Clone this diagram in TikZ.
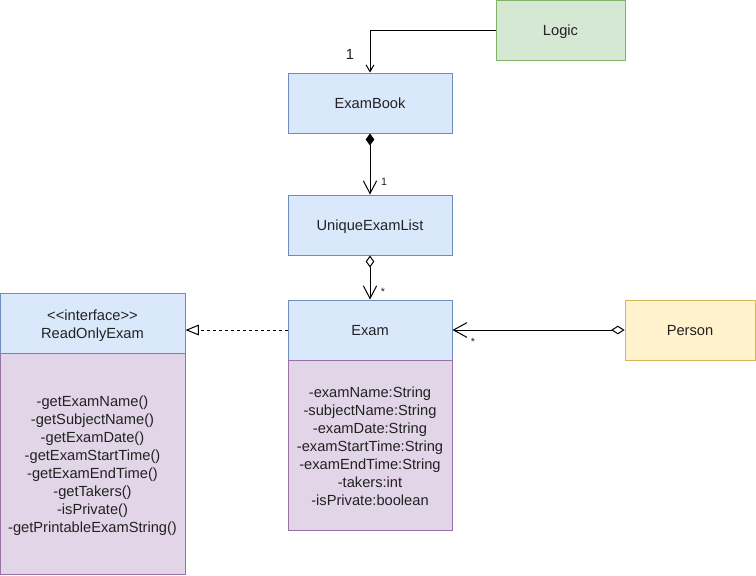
\documentclass[tikz,border=0pt]{standalone}
\usepackage{fontspec}
\setmainfont{Liberation Sans}
\usetikzlibrary{arrows.meta}
\definecolor{bluefill}{HTML}{DAE8FC}
\definecolor{bluedraw}{HTML}{6C8EBF}
\definecolor{purpfill}{HTML}{E1D5E7}
\definecolor{purpdraw}{HTML}{9673A6}
\definecolor{greenfill}{HTML}{D5E8D4}
\definecolor{greendraw}{HTML}{82B366}
\definecolor{yelfill}{HTML}{FFF2CC}
\definecolor{yeldraw}{HTML}{D6B656}
\definecolor{txt}{HTML}{222222}
\newcommand{\toppad}{\rule{0pt}{13.5pt}}
\begin{document}
\begin{tikzpicture}[x=0.75pt,y=-0.75pt,
  every node/.style={font=\fontsize{11}{13.5}\selectfont, text=txt},
  box/.style={draw, line width=0.75pt, inner sep=0pt, align=center,
    execute at begin node={\rule{0pt}{12.7pt}}, execute at end node={\strut}},
  bluebox/.style={box, fill=bluefill, draw=bluedraw},
  purpbox/.style={box, fill=purpfill, draw=purpdraw},
  conn/.style={line width=0.75pt, draw=black},
  mult/.style={font=\fontsize{8}{9}\selectfont, inner sep=0pt},
]
\useasboundingbox (0,0) rectangle (756,575);

% boxes
\node[box, fill=greenfill, draw=greendraw, minimum width=129*0.75pt, minimum height=60*0.75pt] (logic) at (560.5,30) {Logic};
\node[bluebox, minimum width=164*0.75pt, minimum height=60*0.75pt] (exambook) at (370,103) {ExamBook};
\node[bluebox, minimum width=164*0.75pt, minimum height=60*0.75pt] (uel) at (370,225) {UniqueExamList};
\node[bluebox, minimum width=164*0.75pt, minimum height=60*0.75pt] (exam) at (370,330) {Exam};
\node[purpbox, minimum width=164*0.75pt, minimum height=170*0.75pt] (exambody) at (370,445) {\toppad-examName:String\\-subjectName:String\\-examDate:String\\-examStartTime:String\\-examEndTime:String\\-takers:int\\-isPrivate:boolean\strut};
\node[bluebox, minimum width=185*0.75pt, minimum height=60*0.75pt] (roe) at (92.5,323) {\toppad<{}<interface>{}>\\ReadOnlyExam\strut};
\node[purpbox, minimum width=185*0.75pt, minimum height=221*0.75pt] (roebody) at (92.5,463.5) {\toppad-getExamName()\\-getSubjectName()\\-getExamDate()\\-getExamStartTime()\\-getExamEndTime()\\-getTakers()\\-isPrivate()\\-getPrintableExamString()\strut};
\node[box, fill=yelfill, draw=yeldraw, minimum width=130*0.75pt, minimum height=60*0.75pt] (person) at (690,330) {Person};

% connectors
\draw[conn, -{Straight Barb[length=5pt,width=6pt]}] (logic.west) -| (exambook.north);
\node[inner sep=0pt] (m1) at (350,54) {1};

\draw[conn, {Diamond[length=9pt,width=6.5pt]}-{Straight Barb[length=9.5pt,width=10pt]}] (exambook.south) -- (uel.north);
\node[mult] (m2) at (384,182) {1};

\draw[conn, {Diamond[open,fill=white,length=9pt,width=6.5pt]}-{Straight Barb[length=9.5pt,width=10pt]}] (uel.south) -- (exam.north);
\node[mult] (m3) at (383,292) {*};

\draw[conn, dash pattern=on 2.25pt off 2.25pt, -{Triangle[open,fill=white,length=10pt,width=8pt]}] (exam.west) -- (exam.west -| roe.east);

\draw[conn, {Diamond[open,fill=white,length=10pt,width=6.5pt]}-{Straight Barb[length=10pt,width=11pt]}] (person.west) -- (exam.east);
\node[mult] (m4) at (473,342) {*};
\end{tikzpicture}
\end{document}
